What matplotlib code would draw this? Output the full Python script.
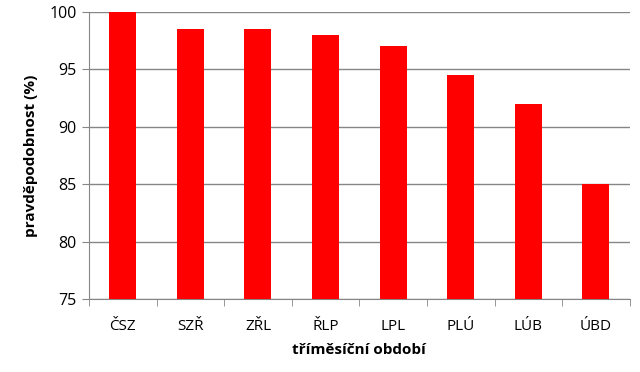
import matplotlib
matplotlib.use("Agg")
import matplotlib.pyplot as plt
import numpy as np

# data
obdobi = ["ČSZ", "SZŘ", "ZŘL", "ŘLP", "LPL", "PLÚ", "LÚB", "ÚBD"]
pravdepodobnost = [100, 98.5, 98.5, 98, 97, 94.5, 92, 85]

plt.rcParams['font.family'] = ['Open Sans', 'DejaVu Sans']
grey = "#868686"

fig = plt.figure(figsize=(6.4, 3.72), dpi=100)
ax = fig.add_axes([0.139, 0.196, 0.845, 0.772])

x = np.arange(len(obdobi))
ax.bar(x, pravdepodobnost, width=0.4, color="#ff0000", zorder=3)

ax.set_ylim(75, 100)
ax.set_yticks([75, 80, 85, 90, 95, 100])
ax.set_xlim(-0.5, len(obdobi) - 0.5)
ax.set_xticks(x)
ax.set_xticklabels(obdobi)
ax.set_xticks(np.arange(-0.5, len(obdobi)), minor=True)
ax.tick_params(axis='x', which='major', length=0, pad=14, labelsize=11)
ax.tick_params(axis='x', which='minor', length=5, color=grey)
ax.tick_params(axis='y', length=5, color=grey, labelsize=11.5, pad=4)

ax.grid(axis='y', color=grey, linewidth=1, zorder=0)
for s in ['top', 'right']:
    ax.spines[s].set_visible(False)
for s in ['left', 'bottom']:
    ax.spines[s].set_color(grey)

ax.set_ylabel("pravděpodobnost (%)", fontsize=11, fontweight='bold', labelpad=8)
ax.set_xlabel("tříměsíční období", fontsize=11, fontweight='bold', labelpad=7)

plt.savefig("out.png", dpi=100)
